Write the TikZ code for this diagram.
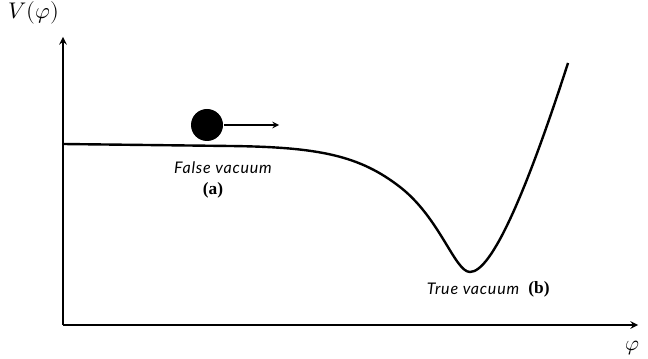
\documentclass[tikz,border=0pt]{standalone}
\usepackage{fontspec}
\newfontfamily\labelfont[LetterSpace=5]{Lato}
\setmainfont{Liberation Serif}
\usepackage{unicode-math}
\setmathfont{Latin Modern Math}
\begin{document}
\begin{tikzpicture}[x=0.75pt,y=-0.75pt,>=stealth,line width=1.5pt]
\useasboundingbox (0,0) rectangle (648,359);
\tikzset{vaclabel/.style={font=\labelfont\itshape\fontsize{12}{14}\selectfont},
  tag/.style={font=\rmfamily\bfseries\fontsize{13}{15}\selectfont}}
\coordinate (O) at (63,325);
\coordinate (ytip) at (63,37);
\coordinate (xtip) at (638,325);
\draw[->] (O)--(ytip);
\draw[->] (O)--(xtip);
\node (Vlabel) at (34,13) {\fontsize{17}{20}\selectfont$V(\varphi)$};
\node (philabel) at (632,348) {\fontsize{16}{19}\selectfont$\varphi$};
% potential
\draw[line width=1.8pt,line join=round] (63,144) -- (230,146)
  .. controls (320,147) and (360,156) .. (400,187)
  .. controls (440,218) and (455,272) .. (470,272)
  .. controls (492,272) and (527,190) .. (568,63);
\node[circle,fill=black,minimum size=32*0.75pt,inner sep=0pt] (ball) at (207,125) {};
\coordinate (push) at (279,125);
\draw[->,line width=1.2pt] (ball.east)--(push);
\node[vaclabel] (false) at (223,168) {False vacuum};
\node[tag] (a) at (213,190) {(a)};
\node[vaclabel] (true) at (473,289) {True vacuum};
\node[tag] (b) at (539,289) {(b)};
\end{tikzpicture}
\end{document}
